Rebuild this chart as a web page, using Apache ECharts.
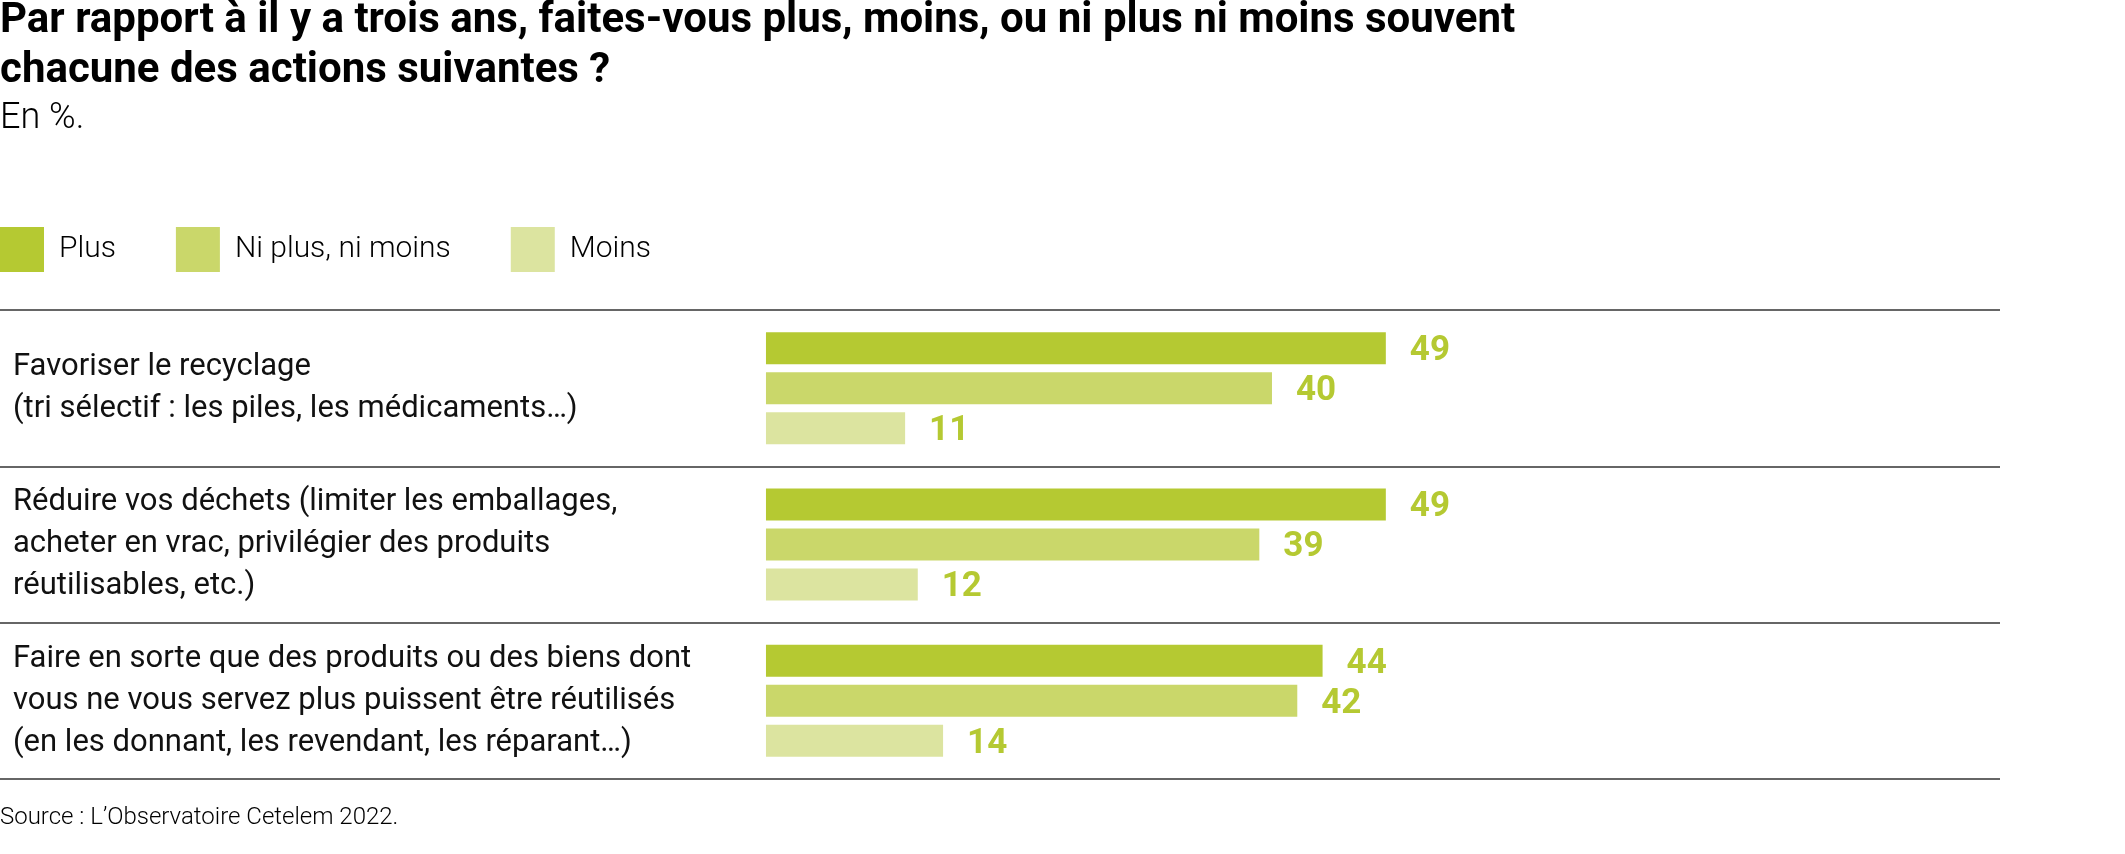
<!DOCTYPE html>
<html>
<head>
<meta charset="utf-8">
<script src="https://cdn.jsdelivr.net/npm/echarts@6/dist/echarts.min.js"></script>
<style>
html,body{margin:0;padding:0;background:#fff;}
#chart{width:2125px;height:854px;}
</style>
</head>
<body>
<div id="chart"></div>
<script>
const titleText = "Par rapport à il y a trois ans, faites-vous plus, moins, ou ni plus ni moins souvent\nchacune des actions suivantes ?";
const subtitleText = "En %.";
const sourceText = "Source : L’Observatoire Cetelem 2022.";
const categories = [
  "Favoriser le recyclage\n(tri sélectif : les piles, les médicaments…)",
  "Réduire vos déchets (limiter les emballages,\nacheter en vrac, privilégier des produits\nréutilisables, etc.)",
  "Faire en sorte que des produits ou des biens dont\nvous ne vous servez plus puissent être réutilisés\n(en les donnant, les revendant, les réparant…)"
];
const seriesNames = ["Plus", "Ni plus, ni moins", "Moins"];
const plusValues = [49, 49, 44];
const neutralValues = [40, 39, 42];
const moinsValues = [11, 12, 14];
const seriesColors = ["#b5c932", "#cad76a", "#dce4a0"];
const labelColor = "#b5c932";

const chart = echarts.init(document.getElementById('chart'), null, {renderer: 'canvas'});
const font = "Roboto, 'Noto Sans', sans-serif";
const valueSets = [plusValues, neutralValues, moinsValues];

chart.setOption({
  animation: false,
  backgroundColor: '#fff',
  title: [
    {text: titleText, left: 0, top: -4, padding: 0,
     textStyle: {fontFamily: font, fontSize: 42, fontWeight: 'bold', color: '#000', lineHeight: 50}},
    {text: subtitleText, left: 0, top: 99, padding: 0,
     textStyle: {fontFamily: font, fontSize: 36, fontWeight: 300, color: '#000', lineHeight: 40}},
    {text: sourceText, left: 0, top: 803, padding: 0,
     textStyle: {fontFamily: font, fontSize: 24, fontWeight: 300, color: '#000', lineHeight: 30}}
  ],
  legend: {
    left: 0, top: 227, padding: 0,
    icon: 'rect', itemWidth: 44, itemHeight: 45, itemGap: 60,
    data: seriesNames,
    textStyle: {fontFamily: font, fontSize: 30, fontWeight: 300, color: '#000', padding: [6, 0, 0, 10]}
  },
  grid: {left: 0, right: 125, top: 310, bottom: 75, containLabel: false},
  xAxis: {
    type: 'value', min: -60.55, max: 97.55,
    axisLine: {show: false}, axisTick: {show: false}, axisLabel: {show: false}, splitLine: {show: false}
  },
  yAxis: {
    type: 'category', inverse: true, data: categories,
    axisLine: {show: false}, axisTick: {show: false},
    axisLabel: {inside: true, margin: 13, align: 'left', fontFamily: font, fontSize: 31, lineHeight: 42, color: '#111', padding: [8, 0, 0, 0]},
    splitLine: {show: true, lineStyle: {color: '#333', width: 1.5}}
  },
  series: seriesNames.map((name, i) => ({
    name: name, type: 'bar', data: valueSets[i],
    barWidth: 32, barGap: '25%',
    itemStyle: {color: seriesColors[i]},
    label: {show: true, position: 'right', distance: 24, offset: [0, 3], fontFamily: font, fontSize: 35, fontWeight: 'bold', color: labelColor}
  }))
});
</script>
</body>
</html>
